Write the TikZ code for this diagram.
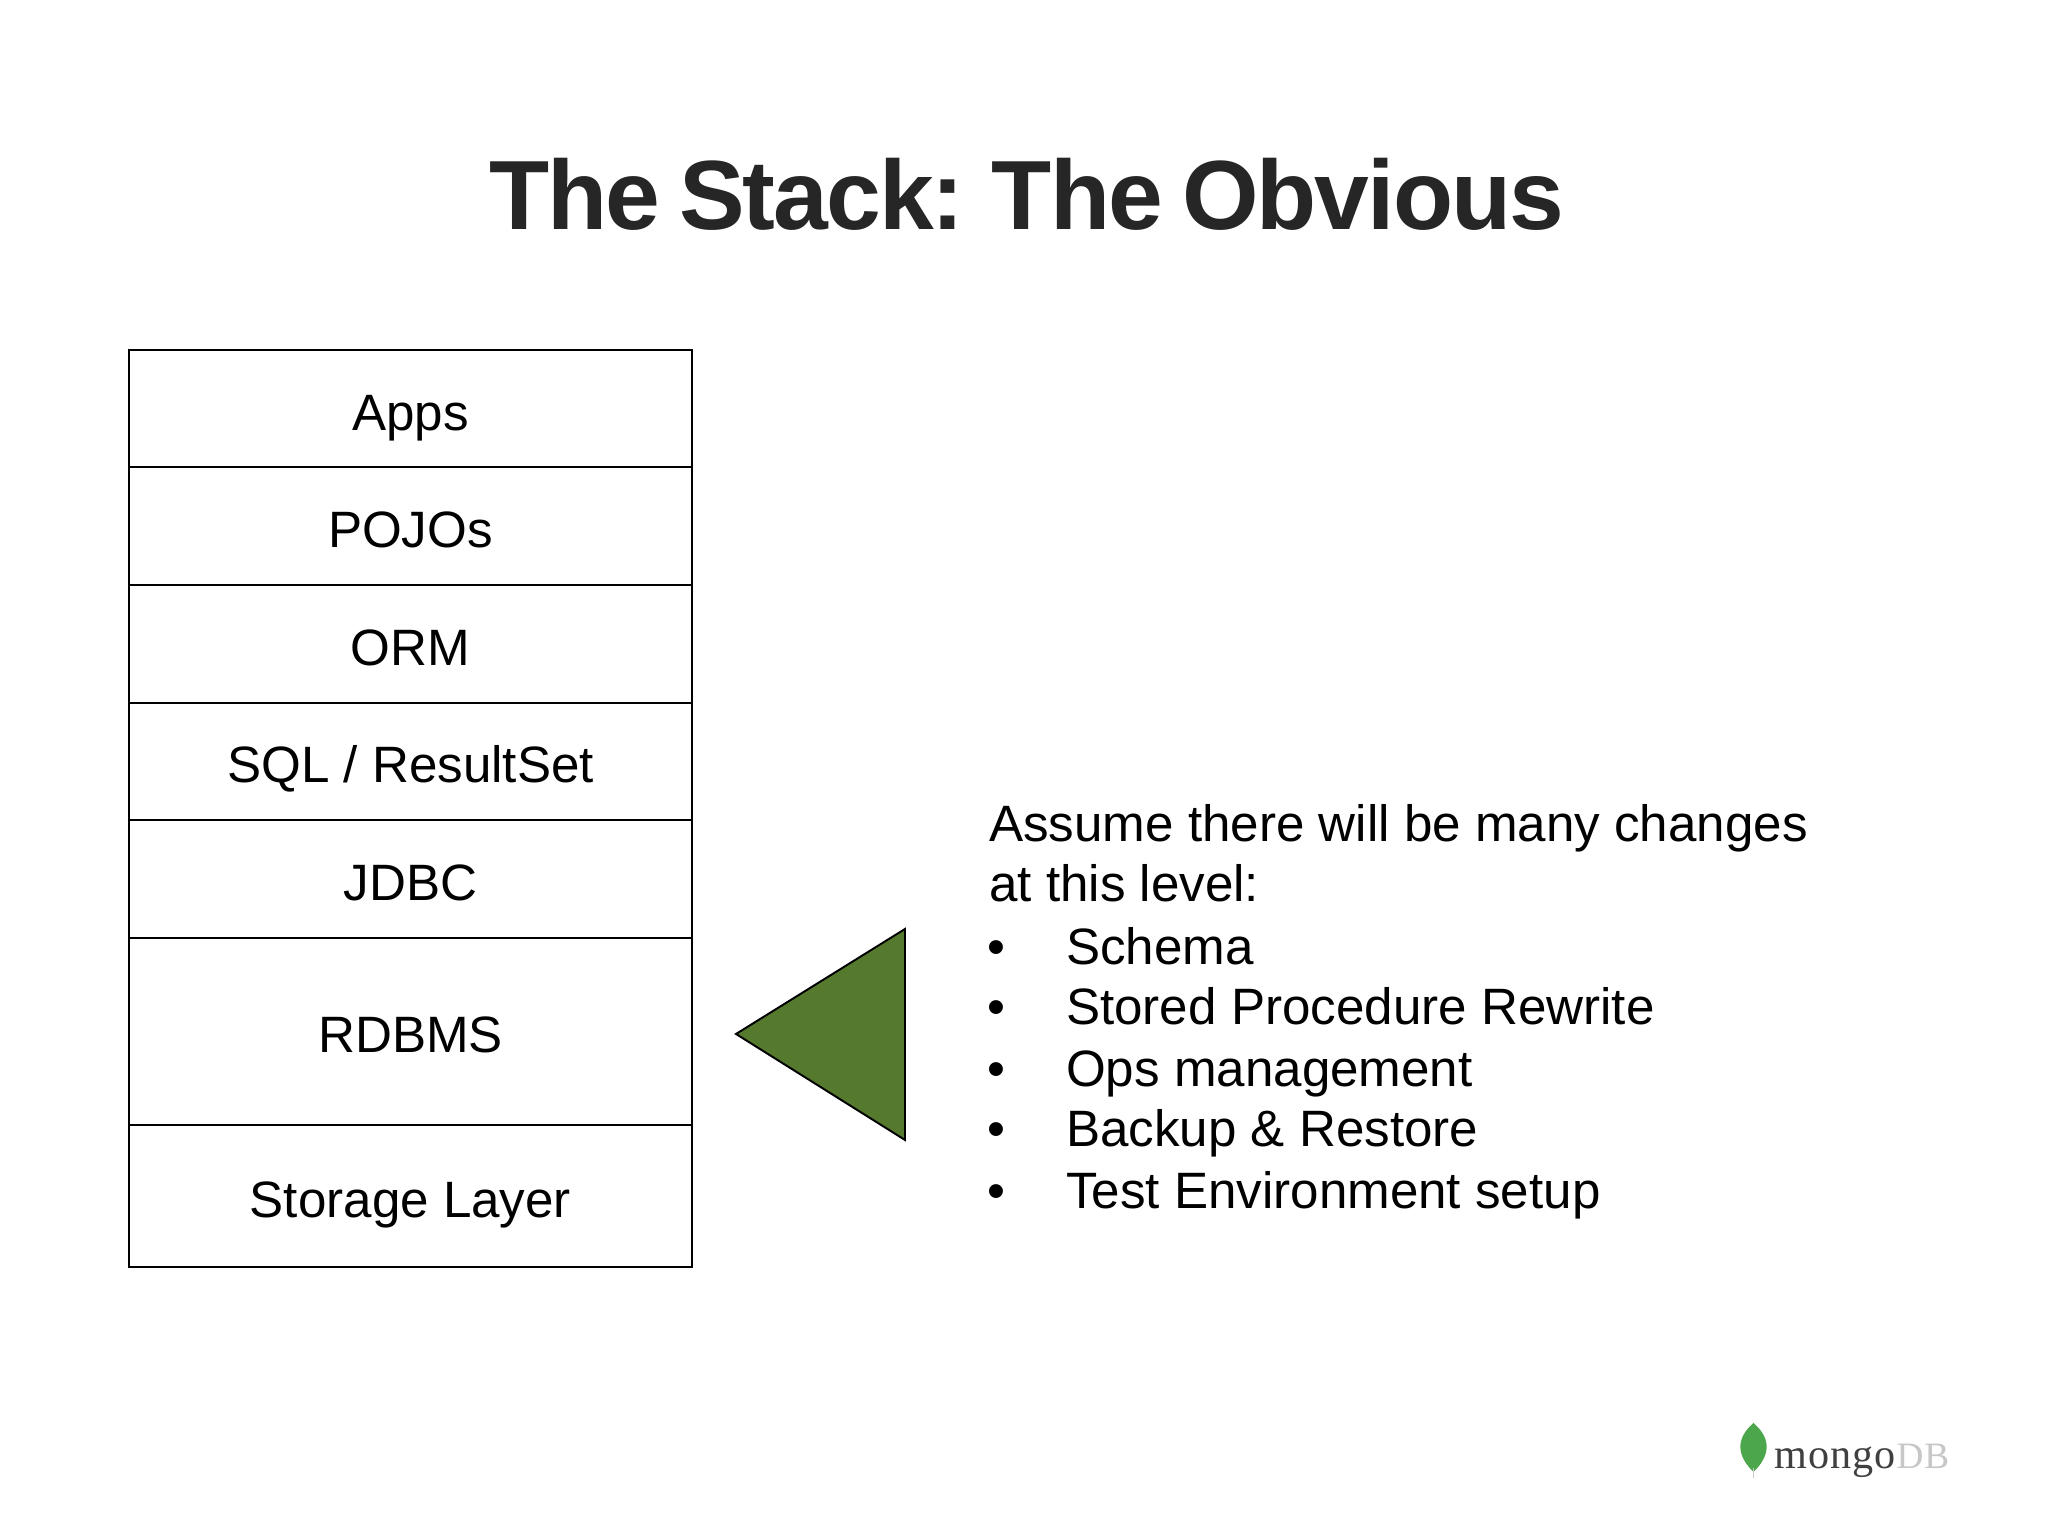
\documentclass[tikz,border=0pt]{standalone}
\usepackage{fontspec}
\setmainfont{Liberation Sans}
\newfontfamily\titlefont[LetterSpace=-2.0,WordSpace=0.75]{Liberation Sans}
\newfontfamily\logofont[LetterSpace=2]{Liberation Serif}
\usepackage{xcolor}
\definecolor{wedgegreen}{HTML}{557A2E}
\definecolor{leafgreen}{HTML}{4CA64C}
\definecolor{titleink}{HTML}{262626}
\tikzset{
  layerbox/.style={draw, line width=0.55pt, minimum width=5.63cm, inner sep=0pt, text height=12.2pt, text depth=0pt, font=\fontsize{14.55}{18}\selectfont},
  sidetext/.style={anchor=base west, inner sep=0pt, font=\fontsize{14.55}{18}\selectfont},
}

\begin{document}
\begin{tikzpicture}
\useasboundingbox (0, 0) rectangle (20.48, 15.36);
\fill[white] (0, 0) rectangle (20.48, 15.36);

\node[inner sep=0pt, text=titleink, font=\titlefont\fontsize{28}{32}\selectfont\bfseries] (title) at (10.265, 13.415) {The Stack: The Obvious};

\node[layerbox, minimum height=1.176cm] (apps) at (4.105, 11.274) {Apps};
\node[layerbox, minimum height=1.176cm] (pojos) at (4.105, 10.098) {POJOs};
\node[layerbox, minimum height=1.176cm] (orm) at (4.105, 8.922) {ORM};
\node[layerbox, minimum height=1.176cm] (sql) at (4.105, 7.746) {SQL / ResultSet};
\node[layerbox, minimum height=1.176cm] (jdbc) at (4.105, 6.570) {JDBC};
\node[layerbox, minimum height=1.875cm] (rdbms) at (4.105, 5.045) {RDBMS};
\node[layerbox, minimum height=1.418cm] (storage) at (4.105, 3.399) {Storage Layer};

\coordinate (tip) at (7.36, 5.02);
\coordinate (top) at (9.05, 6.07);
\coordinate (bottom) at (9.05, 3.96);
\draw[fill=wedgegreen, line width=0.55pt, line join=miter] (tip) -- (top) -- (bottom) -- cycle;

\node[sidetext] (assume) at (9.885, 6.94) {Assume there will be many changes};
\node[sidetext] (level) at (9.885, 6.34) {at this level:};
\node[sidetext] (b1) at (9.87, 5.715) {•};
\node[sidetext] (schema) at (10.655, 5.715) {Schema};
\node[sidetext] (b2) at (9.87, 5.115) {•};
\node[sidetext] (stored) at (10.655, 5.115) {Stored Procedure Rewrite};
\node[sidetext] (b3) at (9.87, 4.495) {•};
\node[sidetext] (ops) at (10.655, 4.495) {Ops management};
\node[sidetext] (b4) at (9.87, 3.895) {•};
\node[sidetext] (backup) at (10.655, 3.895) {Backup \& Restore};
\node[sidetext] (b5) at (9.87, 3.275) {•};
\node[sidetext] (test) at (10.655, 3.275) {Test Environment setup};

% logo
\fill[leafgreen] (17.535, 0.64) .. controls (17.37, 0.80) and (17.35, 0.97) .. (17.535, 1.13) .. controls (17.72, 0.97) and (17.70, 0.80) .. (17.535, 0.64) -- cycle;
\draw[black!20, line width=0.5pt] (17.535, 0.58) -- (17.535, 0.68);
\node[anchor=base west, inner sep=0pt, font=\logofont\fontsize{12}{14}\selectfont, text=black!75] (mongo) at (17.74, 0.67) {mongo};
\node[anchor=base west, inner sep=0pt, font=\logofont\fontsize{10.6}{12}\selectfont, text=black!22] (db) at (mongo.base east) {DB};
\end{tikzpicture}
\end{document}
